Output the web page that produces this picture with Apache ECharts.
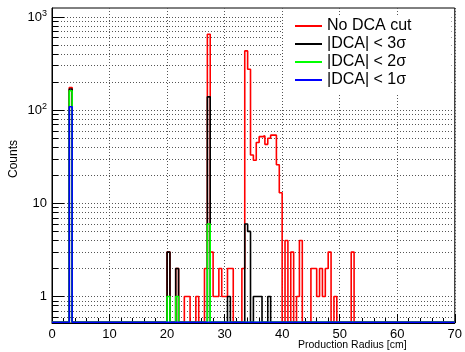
<!DOCTYPE html>
<html>
<head>
<meta charset="utf-8">
<script src="https://cdn.jsdelivr.net/npm/echarts@6/dist/echarts.min.js"></script>
<style>
html,body{margin:0;padding:0;background:#fff;}
#chart{width:465px;height:352px;}
</style>
</head>
<body>
<div id="chart"></div>
<script>
// ---- data (bin width 0.5 cm, only non-empty bins listed: lower edge + count) ----
const binWidth = 0.5;
const xMinVal = 0, xMaxVal = 70;
const seriesNames = ['No DCA cut', '|DCA| < 3\u03c3', '|DCA| < 2\u03c3', '|DCA| < 1\u03c3'];

const redLow = [3.0, 20.0, 21.5, 23.0, 23.5, 25.0, 26.5, 27.0, 27.5, 28.0, 28.5, 29.0, 29.5, 30.0, 30.5, 31.0,
                33.0, 33.5, 34.0, 34.5, 35.0, 35.5, 36.0, 36.5, 37.0, 37.5, 38.0, 38.5, 39.0, 39.5,
                40.5, 41.5, 42.5, 43.0, 45.0, 45.5, 46.0, 46.5, 47.0, 47.5, 48.0, 49.0, 52.0];
const redCnt = [175, 3, 2, 1, 1, 1, 2, 654, 3, 1, 1, 2, 1, 1, 2, 2,
                2, 433, 275, 33, 29, 45, 52, 53, 43, 50, 54, 54, 26, 13,
                4, 3, 1, 4, 2, 2, 1, 2, 1, 2, 3, 1, 3];

const blackLow = [3.0, 20.0, 21.5, 27.0, 30.5, 33.5, 34.0, 35.0, 35.5, 36.0, 37.5];
const blackCnt = [169, 3, 2, 139, 1, 6, 5, 1, 1, 1, 1];

const greenLow = [3.0, 20.0, 21.5, 27.0];
const greenCnt = [162, 1, 1, 6];

const blueLow = [3.0];
const blueCnt = [109];

const yMajorTicks = [1, 10, 100, 1000];
const xTickStep = 10;
const yMin = 0.52, yMax = 1250;

// ---- build step outlines (empty bins sit on the bottom of the frame, as ROOT draws them) ----
function buildHist(lows, cnts) {
  const nb = Math.round((xMaxVal - xMinVal) / binWidth);
  const vals = new Array(nb).fill(0);
  lows.forEach((lo, i) => { vals[Math.round((lo - xMinVal) / binWidth)] = cnts[i]; });
  const floor = yMin * 1.02;
  const pts = [];
  for (let i = 0; i < nb; i++) {
    pts.push([xMinVal + i * binWidth, vals[i] > 0 ? vals[i] : floor]);
  }
  pts.push([xMaxVal, vals[nb - 1] > 0 ? vals[nb - 1] : floor]);
  return pts;
}

const minorVals = [];
for (let e = -1; e <= 3; e++) {
  for (let k = 1; k <= 9; k++) {
    const v = k * Math.pow(10, e);
    if (v >= yMin && v <= yMax) minorVals.push(+v.toPrecision(6));
  }
}

const FONT = 'Liberation Sans';
const colors = ['#ff0000', '#000000', '#00ff00', '#0000ff'];
const hists = [buildHist(redLow, redCnt), buildHist(blackLow, blackCnt),
               buildHist(greenLow, greenCnt), buildHist(blueLow, blueCnt)];

const chart = echarts.init(document.getElementById('chart'), null, {renderer: 'canvas'});
chart.setOption({
  animation: false,
  backgroundColor: '#fff',
  grid: {left: 52, right: 7, top: 8, bottom: 29, show: true, borderColor: '#000', borderWidth: 1, backgroundColor: 'transparent'},
  xAxis: {
    type: 'value', min: xMinVal, max: xMaxVal, interval: xTickStep,
    axisLine: {show: true, lineStyle: {color: '#000', width: 1}},
    axisTick: {show: true, inside: true, length: 9, lineStyle: {color: '#000'}},
    minorTick: {show: true, splitNumber: 5, length: 5, lineStyle: {color: '#000'}},
    axisLabel: {fontFamily: FONT, fontSize: 13, color: '#000', margin: 5},
    splitLine: {show: true, lineStyle: {color: '#555', type: [1, 2], width: 1}}
  },
  yAxis: [{
    type: 'log', logBase: 10, min: yMin, max: yMax,
    axisLine: {show: true, lineStyle: {color: '#000'}},
    axisTick: {show: true, inside: true, length: 6, customValues: minorVals, lineStyle: {color: '#000'}},
    axisLabel: {show: false},
    splitLine: {show: true, lineStyle: {color: '#555', type: [1, 2], width: 1}}
  }, {
    type: 'log', logBase: 10, min: yMin, max: yMax, position: 'left',
    axisLine: {show: false},
    axisTick: {show: true, inside: true, length: 12, customValues: yMajorTicks, lineStyle: {color: '#000'}},
    axisLabel: {
      customValues: yMajorTicks, fontFamily: FONT, fontSize: 13, color: '#000', margin: 5,
      formatter: function (v) {
        const e = Math.round(Math.log10(v));
        if (e <= 1) return String(Math.round(v));
        return '10{s|' + e + '}';
      },
      rich: {s: {fontSize: 9, fontFamily: FONT, color: '#000', padding: [0, 0, 8, 0]}}
    },
    splitLine: {show: false}
  }],
  legend: {
    orient: 'vertical', left: 283, top: 17, backgroundColor: '#fff',
    padding: [1, 40, 6, 12], itemWidth: 27, itemHeight: 2, itemGap: 2, icon: 'rect',
    textStyle: {fontFamily: FONT, fontSize: 16, color: '#000'},
    data: seriesNames
  },
  graphic: [
    {type: 'text', left: 8, top: 140, rotation: Math.PI / 2, style: {text: 'Counts', font: '12px "Liberation Sans"', fill: '#000'}},
    {type: 'text', left: 298, top: 340, style: {text: 'Production Radius [cm]', font: '10.5px "Liberation Sans"', fill: '#000'}}
  ],
  series: hists.map((d, i) => ({
    name: seriesNames[i], type: 'line', step: 'end', data: d, yAxisIndex: 0,
    symbol: 'none', showSymbol: false, color: colors[i],
    lineStyle: {color: colors[i], width: 1.6}, clip: true, z: 3 + i
  }))
});
</script>
</body>
</html>
